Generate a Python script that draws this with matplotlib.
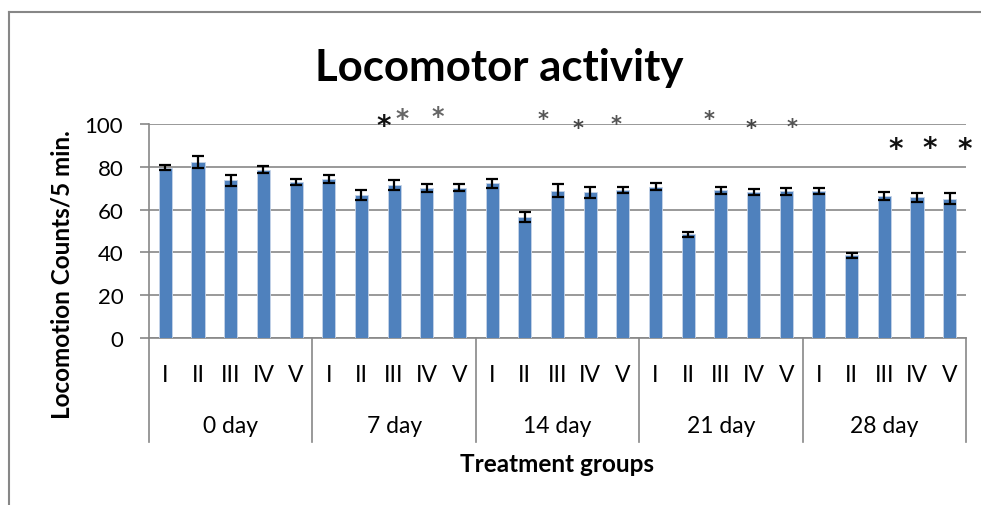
import matplotlib
matplotlib.use("Agg")
import matplotlib.pyplot as plt
import matplotlib.transforms as mtransforms
import numpy as np
from matplotlib.lines import Line2D

plt.rcParams['font.family'] = ['Lato', 'DejaVu Sans']

days = ["0 day", "7 day", "14 day", "21 day", "28 day"]
groups = ["I", "II", "III", "IV", "V"]
means = [79.6, 82.2, 73.7, 78.7, 72.9,
         74.3, 67.0, 71.5, 70.1, 70.3,
         72.2, 56.6, 68.9, 68.1, 69.2,
         70.7, 48.4, 69.1, 68.2, 68.5,
         68.8, 38.7, 66.4, 65.7, 65.1]
errors = [1.2, 2.8, 2.5, 1.5, 1.4,
          1.9, 2.3, 2.5, 1.7, 1.6,
          1.9, 2.4, 2.9, 2.6, 1.3,
          1.6, 1.2, 1.6, 1.4, 1.6,
          1.3, 1.2, 1.9, 2.0, 2.5]
yticks = [0, 20, 40, 60, 80, 100]
# significance asterisks: (x in bar-slot units, y in data units, size, colour)
star_x = [6.67, 7.23, 8.35, 11.57, 12.64, 13.79, 16.64, 17.92, 19.18, 22.34, 23.38, 24.47]
star_y = [102.6, 106.2, 106.8, 105.1, 100.8, 102.7, 105.1, 100.9, 101.4, 91.8, 92.2, 91.8]
star_size = [20, 18, 17, 15, 15, 15, 15, 15, 15, 20, 20, 20]
star_color = ["#111111", "#666666", "#666666", "#555555", "#444444", "#555555",
              "#555555", "#444444", "#555555", "#111111", "#111111", "#111111"]

W, H = 981, 506
fig = plt.figure(figsize=(W / 100, H / 100), dpi=100)
ax_l, ax_r, ax_t, ax_b = 149, 966, 125, 339
ax = fig.add_axes([ax_l / W, 1 - ax_b / H, (ax_r - ax_l) / W, (ax_b - ax_t) / H])

x = np.arange(len(means))
ax.bar(x, means, width=0.4, color="#4F81BD", edgecolor="#C6D4E8", linewidth=0.6, zorder=3)
ax.errorbar(x, means, yerr=errors, fmt="none", ecolor="black", elinewidth=1.6,
            capsize=4.5, capthick=1.6, zorder=4)

ax.set_xlim(-0.5, len(means) - 0.5)
ax.set_ylim(0, 100)
ax.set_yticks(yticks)
ax.set_yticklabels([str(v) for v in yticks], fontsize=16)
ax.tick_params(axis="y", length=6.5, width=1.2, color="#878787", pad=12)
ax.set_xticks([])
ax.grid(axis="y", color="#878787", linewidth=1.2, zorder=0)
ax.set_axisbelow(True)
for s in ["top", "right"]:
    ax.spines[s].set_visible(False)
for s in ["left", "bottom"]:
    ax.spines[s].set_color("#878787")
    ax.spines[s].set_linewidth(1.2)

ah = ax_b - ax_t
trans = ax.get_xaxis_transform()
roman_y = -(375 - ax_b) / ah
day_y = -(427 - ax_b) / ah
sep_y = -(443 - ax_b) / ah
for i in range(len(means)):
    ax.text(x[i], roman_y, groups[i % 5], transform=trans, ha="center", va="center", fontsize=16.5)
for d, lab in enumerate(days):
    ax.text(d * 5 + 2, day_y, lab, transform=trans, ha="center", va="center", fontsize=16.5)
for d in range(len(days) + 1):
    ax.add_line(Line2D([d * 5 - 0.5, d * 5 - 0.5], [0, sep_y], transform=trans,
                       color="#878787", linewidth=1.2, clip_on=False))

ax.text(0.5, -(465 - ax_b) / ah, "Treatment groups", transform=ax.transAxes,
        ha="center", va="center", fontsize=17.5, fontweight="bold")
fig.text(62 / W, 1 - 275 / H, "Locomotion Counts/5 min.", rotation=90,
         ha="center", va="center", fontsize=17.5, fontweight="bold")
fig.text(499 / W, 1 - 68 / H, "Locomotor activity", ha="center", va="center",
         fontsize=31.5, fontweight="bold")

for sx, sy, ss, sc in zip(star_x, star_y, star_size, star_color):
    tr = mtransforms.offset_copy(ax.transData, fig=fig, y=-0.5625 * ss, units="points")
    ax.text(sx, sy, "*", transform=tr, ha="center", va="baseline", fontsize=ss,
            color=sc, family="DejaVu Sans", fontweight="bold", clip_on=False, zorder=5)

# outer frame (top and left edges)
fig.add_artist(Line2D([9 / W, 1], [1 - 13 / H, 1 - 13 / H], transform=fig.transFigure,
                      color="#878787", linewidth=1.5))
fig.add_artist(Line2D([9 / W, 9 / W], [0, 1 - 13 / H], transform=fig.transFigure,
                      color="#878787", linewidth=1.5))

fig.savefig("out.png", dpi=100)
